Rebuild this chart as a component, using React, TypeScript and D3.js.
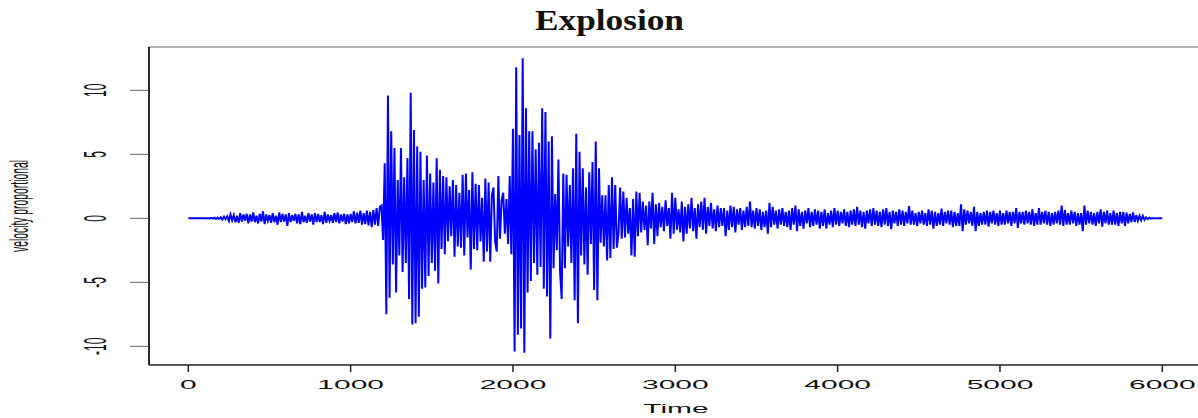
import { useMemo } from "react";
import * as d3 from "d3";

// seismic trace (time units / velocity)
// quiet onset, sampled every 10
const onsetStart = 0;
const onsetStep = 10;
const onsetValues = [
  0, 0, 0, 0, 0, 0, 0, 0, 0, 0, 0.01, -0.01, 0.02, -0.02, 0.03, -0.03, 0.04, -0.05, 0.06, -0.05,
  0.08, -0.1, 0.12, -0.08, 0.15, -0.2, 0.3, -0.15, 0.25, -0.3, 0.2, -0.35, 0.4, -0.25, 0.3, -0.2, 0.35, -0.4, 0.3, -0.25,
  0.45, -0.3, 0.2, -0.4, 0.35, -0.25, 0.55, -0.45, 0.3, -0.2, 0.25, -0.35, 0.4, -0.3, 0.2, -0.5, 0.45, -0.3, 0.35, -0.25,
  0.3, -0.6, 0.4, -0.3, 0.25, -0.2, 0.35, -0.4, 0.3, -0.45, 0.5, -0.3, 0.2, -0.35, 0.4, -0.25, 0.3, -0.5, 0.4, -0.3,
  0.35, -0.3, 0.25, -0.45, 0.5, -0.35, 0.3, -0.2, 0.25, -0.35, 0.4, -0.3, 0.45, -0.4, 0.3, -0.25, 0.35, -0.45, 0.3, -0.4,
  0.35, -0.3, 0.55, -0.4, 0.45, -0.35, 0.6, -0.5, 0.4, -0.45, 0.6, -0.55, 0.5, -0.7, 0.65, -0.5, 0.8, -0.6, 0.9, 1.0,
];

// main phases (P and S), sampled every 10
const mainStart = 1200;
const mainStep = 10;
const mainValues = [
  -1.7, 4.3, -7.5, 9.6, -6.2, 6.8, -3.6, 5.5, -5.8, 3.0,
  -2.9, 5.5, -4.2, 3.2, -3.5, 4.7, -6.3, 9.8, -8.3, 6.9,
  -8.2, 5.6, -7.7, 5.2, -5.5, 3.0, -5.4, 4.9, -4.5, 3.5,
  -3.5, 2.8, -4.1, 4.7, -5.1, 3.8, -2.4, 3.3, -2.8, 3.2,
  -1.8, 2.5, -1.4, 3.0, -3.0, 2.6, -2.2, 2.0, -2.3, 3.4,
  -2.9, 3.5, -1.5, 2.2, -4.0, 3.6, -2.4, 2.7, -2.5, 2.6,
  -1.8, 1.6, -3.4, 3.1, -2.6, 2.8, -3.4, 1.8, 2.4, -1.8,
  -2.6, 3.3, -1.6, 1.4, 2.0, -1.2, 1.5, -2.0, 3.3, -2.8,
  7.0, -10.4, 11.8, -9.1, 6.5, -8.6, 12.5, -10.5, 8.6, -5.8,
  6.8, -4.9, 6.8, -3.5, 5.4, -4.4, 5.9, -3.8, 8.6, -5.5,
  8.3, -6.1, 6.0, -9.4, 6.4, -3.9, 1.9, -2.5, 4.6, -4.1,
  -6.3, 3.5, -3.9, 3.4, -2.2, 2.6, -3.5, 3.9, -6.4, 6.6,
  -8.2, 5.2, -2.9, 3.9, -3.6, 2.4, -4.4, 3.6, -2.0, 4.4,
  -5.6, 6.0, -6.4, 3.9, -1.9, 1.8, -2.2, 1.8, -3.3, 2.6,
  -3.1, 3.2, -2.4, 2.6, -2.3, -1.2, 2.4, -1.6, 2.1, -1.5,
];

// coda, sampled every 10
const codaStart = 2700;
const codaStep = 10;
const codaValues = [
  1.6, -1.2, 0.8, -2.9, 1.5, -3.0, 2.1, -1.4, 2.0, -1.1, 1.3, -0.9, 1.0, -2.1, 1.3, -0.8, 2.0, -2.0, 1.1, -1.4,
  1.2, -0.7, 0.9, -1.0, 1.4, -0.6, 0.8, -1.6, 2.0, -1.2, 1.6, -0.9, 0.7, -1.1, 1.3, -1.8, 0.9, -1.2, 1.1, -0.8,
  1.6, -1.0, 0.8, -1.6, 1.1, -0.7, 1.3, -0.9, 1.6, -1.2, 0.9, -0.6, 1.2, -0.8, 0.7, -1.0, 1.0, -0.7, 0.8, -0.6,
  0.8, -1.4, 0.6, -0.9, 1.0, -0.7, 0.9, -1.1, 0.7, -0.5, 0.8, -0.9, 0.6, -0.7, 0.9, -0.6, 1.3, -0.7, 0.6, -0.8,
  0.8, -0.6, 0.7, -0.9, 0.5, -0.7, 0.6, -1.2, 1.2, -0.7, 0.9, -0.5, 0.6, -0.8, 0.7, -0.5, 0.8, -0.6, 0.5, -0.7,
  0.6, -0.9, 0.8, -0.5, 1.0, -1.0, 0.7, -0.6, 0.5, -0.8, 0.6, -0.4, 0.8, -0.7, 0.5, -0.6, 0.7, -0.5, 0.6, -0.8,
  0.5, -0.6, 0.7, -0.8, 0.4, -0.5, 0.6, -0.7, 0.8, -0.5, 0.6, -0.6, 0.5, -0.4, 0.7, -0.6, 0.5, -0.7, 0.6, -0.5,
  0.7, -0.6, 0.9, -0.5, 0.6, -0.7, 0.5, -0.8, 0.6, -0.4, 0.7, -0.6, 0.8, -0.5, 0.6, -0.6, 0.5, -0.7, 0.7, -0.5,
  0.8, -0.6, 0.5, -0.85, 0.6, -0.4, 0.5, -0.6, 0.7, -0.5, 0.6, -0.6, 0.5, -0.4, 0.95, -0.5, 0.6, -0.5, 0.4, -0.6,
  0.5, -0.4, 0.6, -0.5, 0.4, -0.6, 0.7, -0.5, 0.6, -0.8, 0.5, -0.6, 0.4, -0.5, 0.75, -0.6, 0.5, -0.4, 0.6, -0.5,
  0.6, -0.7, 0.5, -0.6, 0.4, -0.6, 1.1, -1.0, 0.7, -0.5, 0.6, -0.4, 0.5, -0.6, 0.9, -1.0, 0.5, -0.6, 0.4, -0.5,
  0.5, -0.5, 0.6, -0.65, 0.5, -0.4, 0.6, -0.5, 0.4, -0.6, 0.6, -0.5, 0.4, -0.5, 0.6, -0.4, 0.5, -0.6, 0.5, -0.4,
  0.8, -0.75, 0.5, -0.4, 0.5, -0.5, 0.6, -0.4, 0.5, -0.5, 0.7, -0.6, 0.4, -0.5, 0.8, -0.5, 0.5, -0.4, 0.6, -0.5,
  0.5, -0.6, 0.4, -0.5, 0.5, -0.4, 0.6, -0.5, 1.0, -0.6, 0.65, -0.5, 0.4, -0.5, 0.6, -0.4, 0.5, -0.6, 0.4, -0.5,
  0.4, -1.0, 1.0, -0.5, 0.6, -0.4, 0.5, -0.5, 0.4, -0.6, 0.5, -0.4, 0.7, -0.65, 0.5, -0.4, 0.6, -0.5, 0.4, -0.5,
  0.6, -0.5, 0.4, -0.6, 0.5, -0.4, 0.5, -0.6, 0.45, -0.4, 0.35, -0.3, 0.45, -0.3, 0.25, -0.2, 0.2, -0.15, 0.2, -0.12,
  0.08, -0.06, 0.04, -0.03, 0.02, -0.01, 0.01, 0, 0, 0, 0,
];

const xTicks = [0, 1000, 2000, 3000, 4000, 5000, 6000];
const yTicks = [-10, -5, 0, 5, 10];
const title = "Explosion";
const xLabel = "Time";
const yLabel = "velocity proportional";

const W = 1198;
const H = 418;
const left = 149;
const top = 47;
const bottom = 365;

const toPoints = (start: number, step: number, vals: number[]) =>
  vals.map((v, i) => [start + i * step, v] as [number, number]);

export default function App() {
  const x = d3.scaleLinear().domain([0, 6000]).range([188.3, 1162.3]);
  const y = d3.scaleLinear().domain([-10, 10]).range([346.3, 90.3]);

  const path = useMemo(() => {
    const pts = [
      ...toPoints(onsetStart, onsetStep, onsetValues),
      ...toPoints(mainStart, mainStep, mainValues),
      ...toPoints(codaStart, codaStep, codaValues),
    ];
    return d3
      .line<[number, number]>()
      .x((d) => x(d[0]))
      .y((d) => y(d[1]))(pts) as string;
  }, []);

  const sans = "'Liberation Sans', Arial, Helvetica, sans-serif";

  return (
    <svg
      width={W}
      height={H}
      style={{ position: "absolute", left: 0, top: 0, background: "#fff" }}
    >
      <text
        x={609.5}
        y={29.5}
        textAnchor="middle"
        fontFamily="'Liberation Serif', 'DejaVu Serif', serif"
        fontWeight="bold"
        fontSize={30}
        textLength={149}
        lengthAdjust="spacingAndGlyphs"
        fill="#111"
      >
        {title}
      </text>

      {/* frame */}
      <line x1={left} x2={W} y1={top} y2={top} stroke="#999" strokeWidth={1.5} />
      <line x1={left} x2={left} y1={top} y2={bottom} stroke="#111" strokeWidth={1.8} />
      <line x1={left} x2={W} y1={bottom} y2={bottom} stroke="#222" strokeWidth={1.5} />

      {/* y axis */}
      {yTicks.map((t) => (
        <g key={t}>
          <line x1={130} x2={left} y1={y(t)} y2={y(t)} stroke="#666" strokeWidth={1} />
          <text
            transform={`translate(106,${y(t)}) rotate(-90) scale(1,2.6)`}
            textAnchor="middle"
            fontFamily={sans}
            fontSize={12}
            fill="#111"
          >
            {t}
          </text>
        </g>
      ))}
      <text
        transform={`translate(27.5,206) rotate(-90) scale(1,2.6)`}
        textAnchor="middle"
        fontFamily={sans}
        fontSize={10}
        textLength={92}
        lengthAdjust="spacingAndGlyphs"
        fill="#111"
      >
        {yLabel}
      </text>

      {/* x axis */}
      {xTicks.map((t) => (
        <g key={t}>
          <line x1={x(t)} x2={x(t)} y1={bottom} y2={372} stroke="#222" strokeWidth={1.5} />
          <text
            transform={`translate(${x(t)},388.5) scale(2.5,1)`}
            textAnchor="middle"
            fontFamily={sans}
            fontSize={12}
            fill="#111"
          >
            {t}
          </text>
        </g>
      ))}
      <text
        transform={`translate(676,413) scale(2.5,1)`}
        textAnchor="middle"
        fontFamily={sans}
        fontSize={12}
        fill="#111"
      >
        {xLabel}
      </text>

      <path d={path} fill="none" stroke="#0000ff" strokeWidth={2} strokeLinejoin="miter" />
    </svg>
  );
}
